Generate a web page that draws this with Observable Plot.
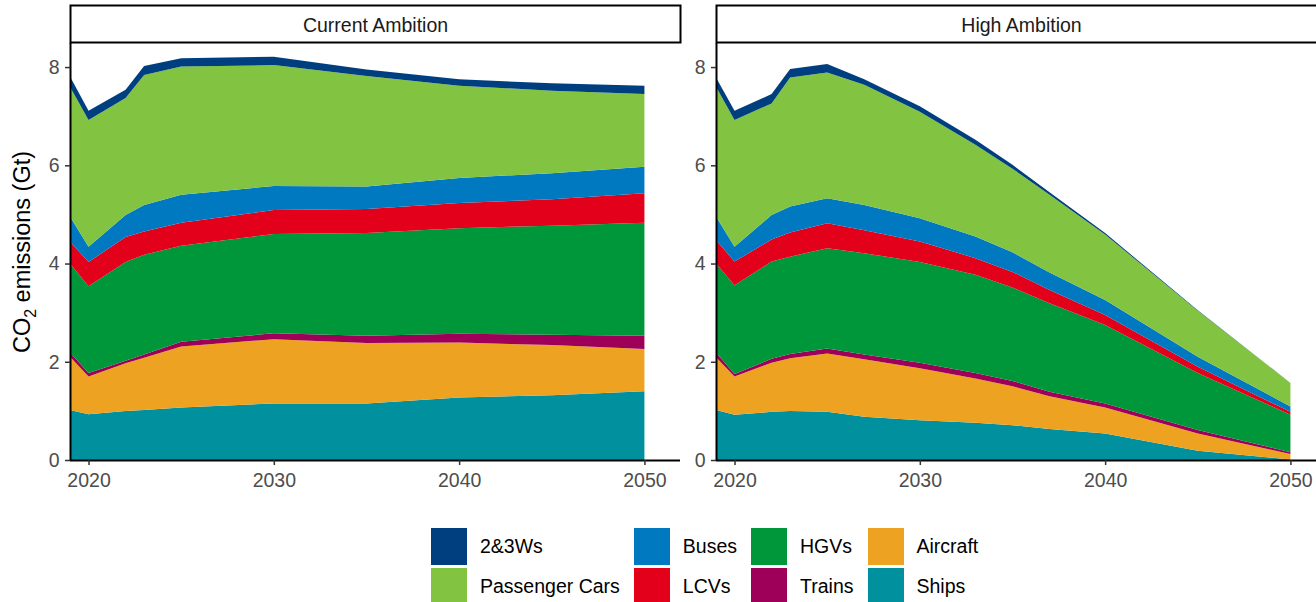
<!DOCTYPE html>
<html>
<head>
<meta charset="utf-8">
<script src="https://cdn.jsdelivr.net/npm/d3@7"></script>
<script src="https://cdn.jsdelivr.net/npm/@observablehq/plot@0.6"></script>
<style>
html, body { margin: 0; padding: 0; overflow: hidden; background: #fff; }
body { width: 1316px; height: 602px; position: relative; font-family: "Liberation Sans", Arial, sans-serif; }
#chart { position: absolute; left: 0; top: 0; }
#chart svg { max-width: none !important; display: block; }
#legend { position: absolute; left: 431px; top: 528px; display: grid; grid-auto-flow: column;
  grid-template-rows: 37px 37px; row-gap: 3px; column-gap: 14px; font-size: 19.5px; color: #000; }
.item { display: flex; align-items: center; }
.key { width: 36px; height: 37px; margin-right: 13px; }
</style>
</head>
<body>
<div id="chart"></div>
<div id="legend"></div>
<script>
// ---- data ----
const scenarios = ["Current Ambition", "High Ambition"];
const seriesOrder = ["Ships", "Aircraft", "Trains", "HGVs", "LCVs", "Buses", "Passenger Cars", "2&3Ws"]; // bottom -> top
const seriesColors = ["#00909E", "#EDA321", "#9E0059", "#00963A", "#E2001A", "#0079C1", "#82C341", "#003F7F"];
const legendOrder = ["2&3Ws", "Passenger Cars", "Buses", "LCVs", "HGVs", "Trains", "Aircraft", "Ships"];
const xTicks = [2020, 2030, 2040, 2050];
const yTicks = [0, 2, 4, 6, 8];

// Current Ambition (Gt CO2)
const currentYears    = [2019, 2020, 2022, 2023, 2025, 2030, 2035, 2040, 2045, 2050];
const currentShips    = [1.02, 0.93, 1.00, 1.02, 1.07, 1.15, 1.15, 1.27, 1.32, 1.40];
const currentAircraft = [1.08, 0.77, 0.97, 1.06, 1.24, 1.31, 1.23, 1.12, 1.02, 0.86];
const currentTrains   = [0.09, 0.07, 0.05, 0.07, 0.10, 0.12, 0.15, 0.18, 0.21, 0.27];
const currentHGVs     = [1.81, 1.77, 2.01, 2.03, 1.95, 2.02, 2.09, 2.15, 2.22, 2.30];
const currentLCVs     = [0.45, 0.49, 0.51, 0.47, 0.47, 0.49, 0.49, 0.51, 0.54, 0.60];
const currentBuses    = [0.51, 0.31, 0.45, 0.54, 0.57, 0.49, 0.46, 0.51, 0.53, 0.54];
const currentCars     = [2.64, 2.58, 2.38, 2.65, 2.61, 2.46, 2.25, 1.88, 1.68, 1.48];
const current2and3W   = [0.21, 0.19, 0.17, 0.18, 0.17, 0.17, 0.13, 0.13, 0.15, 0.17];

// High Ambition (Gt CO2)
const highYears    = [2019, 2020, 2022, 2023, 2025, 2027, 2030, 2033, 2035, 2037, 2040, 2045, 2050];
const highShips    = [1.02, 0.92, 0.98, 1.00, 0.98, 0.88, 0.81, 0.76, 0.71, 0.63, 0.54, 0.19, 0.01];
const highAircraft = [1.07, 0.78, 1.00, 1.07, 1.19, 1.17, 1.06, 0.90, 0.79, 0.67, 0.53, 0.35, 0.11];
const highTrains   = [0.10, 0.05, 0.08, 0.09, 0.10, 0.10, 0.11, 0.11, 0.11, 0.09, 0.08, 0.07, 0.04];
const highHGVs     = [1.81, 1.81, 1.98, 1.98, 2.04, 2.06, 2.05, 2.00, 1.90, 1.80, 1.60, 1.16, 0.76];
const highLCVs     = [0.48, 0.48, 0.45, 0.49, 0.51, 0.47, 0.42, 0.34, 0.32, 0.27, 0.20, 0.13, 0.06];
const highBuses    = [0.48, 0.30, 0.50, 0.53, 0.51, 0.51, 0.47, 0.44, 0.40, 0.36, 0.31, 0.20, 0.11];
const highCars     = [2.64, 2.58, 2.27, 2.63, 2.56, 2.45, 2.17, 1.87, 1.70, 1.58, 1.33, 0.94, 0.48];
const high2and3W   = [0.19, 0.19, 0.19, 0.17, 0.17, 0.11, 0.11, 0.10, 0.08, 0.05, 0.03, 0.01, 0.00];

// ---- build table ----
const rows = [];
function add(scenario, years, series, values) {
  years.forEach((yr, i) => rows.push({scenario, year: yr, series, value: values[i]}));
}
const currentSets = [currentShips, currentAircraft, currentTrains, currentHGVs, currentLCVs, currentBuses, currentCars, current2and3W];
const highSets = [highShips, highAircraft, highTrains, highHGVs, highLCVs, highBuses, highCars, high2and3W];
seriesOrder.forEach((s, i) => {
  add(scenarios[0], currentYears, s, currentSets[i]);
  add(scenarios[1], highYears, s, highSets[i]);
});

// ---- plot ----
const W = 1326, H = 505;
const xDomain = [2019, 2051.92];
const yDomain = [0, 8.49];
const font = "'Liberation Sans', Arial, sans-serif";

const plot = Plot.plot({
  width: W, height: H,
  marginLeft: 70, marginRight: 0, marginTop: 43, marginBottom: H - 460,
  style: {fontFamily: font, fontSize: "19.5px", maxWidth: "none", background: "white", overflow: "visible"},
  fx: {domain: scenarios, paddingInner: 36 / 646, paddingOuter: 0, axis: null, label: null},
  x: {domain: xDomain, label: null, axis: null},
  y: {domain: yDomain, label: null, axis: null},
  color: {domain: seriesOrder, range: seriesColors},
  marks: [
    Plot.frame({fill: "white", stroke: "black", strokeWidth: 2, insetTop: -38, insetBottom: 418}),
    Plot.areaY(rows, {x: "year", y: "value", fill: "series", fx: "scenario", order: seriesOrder, curve: "linear"}),
    Plot.ruleX([xDomain[0]], {stroke: "black", strokeWidth: 2}),
    Plot.ruleY([0], {stroke: "black", strokeWidth: 2}),
    Plot.axisY({ticks: yTicks, tickSize: 5, tickPadding: 6, facetAnchor: null, label: null,
      stroke: "#333333", strokeWidth: 1.5, fill: "#4D4D4D", fontSize: 19.5}),
    Plot.axisX({ticks: xTicks, tickFormat: d => String(d), tickSize: 5, tickPadding: 8, label: null,
      stroke: "#333333", strokeWidth: 1.5, fill: "#4D4D4D", fontSize: 19.5}),
    Plot.text(scenarios, {fx: d => d, text: d => d, frameAnchor: "top", lineAnchor: "middle", dy: -18,
      fill: "#1A1A1A", fontSize: 19.5})
  ]
});

// y-axis title with subscript
const svg = d3.select(plot);
const t = svg.append("text")
  .attr("transform", "translate(30,252) rotate(-90)")
  .attr("text-anchor", "middle")
  .attr("font-family", font)
  .attr("font-size", 23.5)
  .attr("fill", "#000");
t.append("tspan").text("CO");
t.append("tspan").attr("font-size", 16).attr("dy", 6).text("2");
t.append("tspan").attr("dy", -6).text(" emissions (Gt)");

document.getElementById("chart").appendChild(plot);

// ---- legend ----
const legend = d3.select("#legend");
legendOrder.forEach(s => {
  const it = legend.append("div").attr("class", "item");
  it.append("div").attr("class", "key").style("background", seriesColors[seriesOrder.indexOf(s)]);
  it.append("span").text(s);
});
</script>
</body>
</html>
